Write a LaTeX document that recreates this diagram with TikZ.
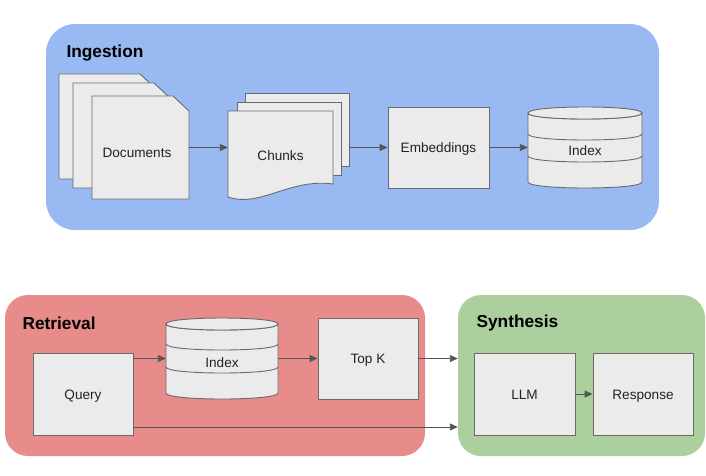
\documentclass[tikz,border=0pt]{standalone}
\usepackage{fontspec}
\setmainfont{Liberation Sans}
\usetikzlibrary{arrows.meta}
\definecolor{ingblue}{HTML}{98B9F1}
\definecolor{retred}{HTML}{E78B8B}
\definecolor{syngreen}{HTML}{ABCF9D}
\definecolor{boxfill}{HTML}{EBEBEB}
\definecolor{boxline}{HTML}{6A6A6A}
\definecolor{arrcol}{HTML}{555555}
\definecolor{txt}{HTML}{222222}
\tikzset{
  box/.style={draw=boxline, fill=boxfill, line width=0.9pt},
  lbl/.style={font=\fontsize{13.6}{16}\selectfont, text=txt, text height=10.3pt, text depth=0pt},
  ttl/.style={font=\bfseries\fontsize{17.3}{20}\selectfont, anchor=west, text=black},
  arr/.style={draw=arrcol, line width=0.9pt, -{Triangle[length=8pt,width=7pt]}},
  grp/.style={draw=none, inner sep=0pt},
  ghost/.style={draw=none, inner sep=0pt},
  rectbox/.style={box, inner sep=0pt, lbl},
}
\newcommand\mycyl[4]{% x1 x2 ytop ybottom
  \path[box] (#1,#3+6) .. controls (#1,#3+14) and (#2,#3+14) .. (#2,#3+6)
     -- (#2,#4-6) .. controls (#2,#4+2) and (#1,#4+2) .. (#1,#4-6) -- cycle;
  \path[box] (#1,#3+6) .. controls (#1,#3-2) and (#2,#3-2) .. (#2,#3+6)
     .. controls (#2,#3+14) and (#1,#3+14) .. (#1,#3+6) -- cycle;
}
\newcommand\mymid[3]{% x1 x2 ycenter
  \draw[draw=boxline, line width=0.9pt] (#1,#3) .. controls (#1,#3+8) and (#2,#3+8) .. (#2,#3);
}
\newcommand\mypage[4]{% x1 x2 ytop ybottom, cut corner
  \path[box] (#1,#3) -- (#2-16,#3) -- (#2,#3+15) -- (#2,#4) -- (#1,#4) -- cycle;
}
\begin{document}
\begin{tikzpicture}[x=1pt,y=-1pt]
\useasboundingbox (0,0) rectangle (706,475);

% groups
\node[grp, fill=ingblue, rounded corners=29pt, minimum width=613pt, minimum height=206pt] (ingest) at (352.5,127) {};
\node[grp, fill=retred, rounded corners=23pt, minimum width=420pt, minimum height=161pt] (retr) at (215,375.5) {};
\node[grp, fill=syngreen, rounded corners=23pt, minimum width=247pt, minimum height=161pt] (synth) at (581.5,375.5) {};

\node[ttl] (tingest) at (63,53.5) {Ingestion};
\node[ttl] (tretr) at (19,323.5) {Retrieval};
\node[ttl] (tsynth) at (473,323.5) {Synthesis};

% documents
\mypage{59}{156}{74}{179}
\mypage{73}{170}{83}{188}
\mypage{92}{189}{96}{199}
\node[ghost, minimum width=97pt, minimum height=103pt] (docs) at (140.5,147.5) {};
\node[lbl] (docstxt) at (137,152) {Documents};

% chunks
\path[box] (245,93) rectangle (349,166);
\path[box] (237,102) rectangle (341,175);
\path[box] (228,111) -- (333,111) -- (333,184) .. controls (290,178) and (260,208) .. (228,197) -- cycle;
\node[ghost, minimum width=121pt, minimum height=108pt] (chunks) at (288.5,148) {};
\node[lbl] (chunkstxt) at (280.5,155) {Chunks};

% embeddings
\node[rectbox, minimum width=101pt, minimum height=81pt] (emb) at (438.5,147.5) {Embeddings};

% index (ingestion)
\mycyl{528}{642}{107}{188}
\mymid{528}{642}{134}
\mymid{528}{642}{156}
\node[ghost, minimum width=114pt, minimum height=81pt] (idx1) at (585,147.5) {};
\node[lbl] (idx1txt) at (585,150) {Index};

% retrieval
\node[rectbox, minimum width=100pt, minimum height=82pt] (query) at (83,394) {Query};
\mycyl{166}{278}{318}{399}
\mymid{166}{278}{344}
\mymid{166}{278}{367}
\node[ghost, minimum width=112pt, minimum height=81pt] (idx2) at (222,358.5) {};
\node[lbl] (idx2txt) at (222,362) {Index};
\node[rectbox, minimum width=100pt, minimum height=81pt] (topk) at (368,358.5) {Top K};

% synthesis
\node[rectbox, minimum width=101pt, minimum height=82pt] (llm) at (524.5,394) {LLM};
\node[rectbox, minimum width=100pt, minimum height=82pt] (resp) at (643,394) {Response};

% connectors
\coordinate (qout) at (133,427);
\draw[arr] (docs.east) -- (docs.east -| chunks.west);
\draw[arr] (chunks.east |- emb.west) -- (emb.west);
\draw[arr] (emb.east) -- (emb.east -| idx1.west);
\draw[arr] (query.east |- idx2.west) -- (idx2.west);
\draw[arr] (idx2.east) -- (topk.west);
\draw[arr] (topk.east) -- (topk.east -| synth.west);
\draw[arr] (qout) -- (qout -| synth.west);
\draw[arr] (llm.east) -- (resp.west);
\end{tikzpicture}
\end{document}
